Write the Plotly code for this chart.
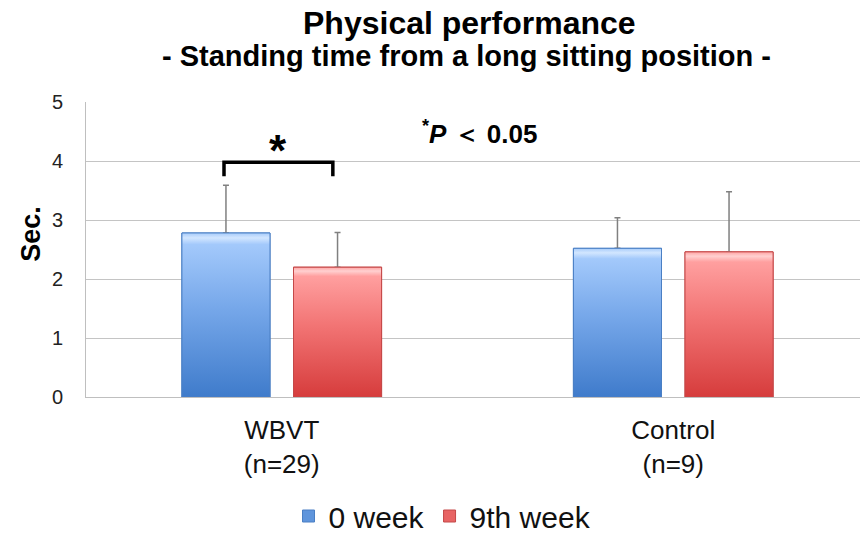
import plotly.graph_objects as go

# ---- data ----
categories = ["WBVT<br>(n=29)", "Control<br>(n=9)"]
series_names = ["0 week", "9th week"]
week0_mean = [2.78, 2.52]
week0_sd = [0.81, 0.52]
week9_mean = [2.20, 2.46]
week9_sd = [0.59, 1.02]
y_ticks = [0, 1, 2, 3, 4, 5]

# ---- style ----
xpos = list(range(len(categories)))
bar_w = 0.225
offsets = [-0.255, 0.03]
base_colors = ["#5f95dc", "#e86464"]
edge_colors = ["#4a7fc4", "#c44848"]
grad_scales = [
    [[0, "#3f7bcb"], [0.55, "#77a8ea"], [0.93, "#a3c9fb"], [0.97, "#d2e6ff"], [1, "#a8ccfa"]],
    [[0, "#d63c3c"], [0.55, "#f27474"], [0.93, "#ff9f9f"], [0.97, "#ffd0d0"], [1, "#ffa4a4"]],
]
font_family = "Liberation Sans, Arial, sans-serif"

fig = go.Figure()

means = [week0_mean, week9_mean]
sds = [week0_sd, week9_sd]

for s, name in enumerate(series_names):
    fig.add_trace(go.Bar(
        x=xpos, y=means[s], name=name,
        width=bar_w, offset=offsets[s],
        marker=dict(color=base_colors[s], line=dict(color=edge_colors[s], width=1)),
        error_y=dict(type="data", array=sds[s], arrayminus=[0] * len(sds[s]),
                     symmetric=False, color="#808080", thickness=1.5, width=3),
    ))

# gradient overlay of each bar (same geometry as the bars)
for s in range(len(series_names)):
    for i, v in enumerate(means[s]):
        x0 = xpos[i] + offsets[s]
        x1 = x0 + bar_w
        fig.add_trace(go.Scatter(
            x=[x0, x0, x1, x1, x0], y=[0, v, v, 0, 0],
            mode="lines", fill="toself",
            fillgradient=dict(type="vertical", colorscale=grad_scales[s]),
            line=dict(color=edge_colors[s], width=1),
            showlegend=False, hoverinfo="skip",
        ))

# significance bracket
br_left = xpos[0] + offsets[0] + bar_w / 2 - 0.005
br_right = xpos[0] + offsets[1] + bar_w / 2 - 0.012
br_top, br_bot = 3.98, 3.74
fig.add_shape(type="path", xref="x", yref="y",
              path=f"M {br_left},{br_bot} L {br_left},{br_top} L {br_right},{br_top} L {br_right},{br_bot}",
              line=dict(color="black", width=3.5))

fig.add_annotation(x=(br_left + br_right) / 2, y=4.17, xref="x", yref="y",
                   xanchor="center", yanchor="middle",
                   text="<b>*</b>", showarrow=False,
                   font=dict(size=44, color="black", family=font_family))

fig.add_annotation(x=0.506, y=4.48, xref="x", yref="y",
                   xanchor="center", yanchor="middle",
                   text="<b><sup>*</sup><i>P</i> ＜ 0.05</b>", showarrow=False,
                   font=dict(size=26, color="black", family=font_family))

# titles
fig.add_annotation(x=0.496, y=(397 - 23) / 295, xref="paper", yref="paper",
                   xanchor="center", yanchor="middle",
                   text="<b>Physical performance</b>", showarrow=False,
                   font=dict(size=32, color="black", family=font_family))
fig.add_annotation(x=0.491, y=(397 - 56) / 295, xref="paper", yref="paper",
                   xanchor="center", yanchor="middle",
                   text="<b>- Standing time from a long sitting position -</b>", showarrow=False,
                   font=dict(size=29, color="black", family=font_family))
fig.add_annotation(x=-0.071, y=0.5535, xref="paper", yref="paper",
                   xanchor="center", yanchor="middle",
                   text="<b>Sec.</b>", showarrow=False, textangle=-90,
                   font=dict(size=27, color="black", family=font_family))

fig.update_layout(
    width=860, height=537,
    margin=dict(l=86, r=0, t=102, b=140, autoexpand=False),
    paper_bgcolor="white", plot_bgcolor="white",
    barmode="overlay",
    showlegend=True,
    legend=dict(orientation="h", x=0.4606, xanchor="center", y=(397 - 542) / 295, yanchor="bottom",
                font=dict(size=30, color="#111", family=font_family),
                itemwidth=30, bgcolor="rgba(0,0,0,0)"),
    font=dict(family=font_family, color="#222"),
)
fig.update_xaxes(range=[-0.5, 1.477], tickvals=xpos, ticktext=categories,
                 showgrid=False, zeroline=False, showline=True, linecolor="#bfbfbf",
                 linewidth=1, ticks="", tickfont=dict(size=26, color="#111"),
                 ticklabelstandoff=10, fixedrange=True)
fig.update_yaxes(range=[0, 5], tickvals=y_ticks, showgrid=True, gridcolor="#c4c4c4",
                 gridwidth=1, zeroline=False, showline=True, linecolor="#bfbfbf",
                 linewidth=1, ticks="", tickfont=dict(size=20, color="#222"),
                 ticklabelstandoff=18, fixedrange=True)

fig.write_html("out.html")
